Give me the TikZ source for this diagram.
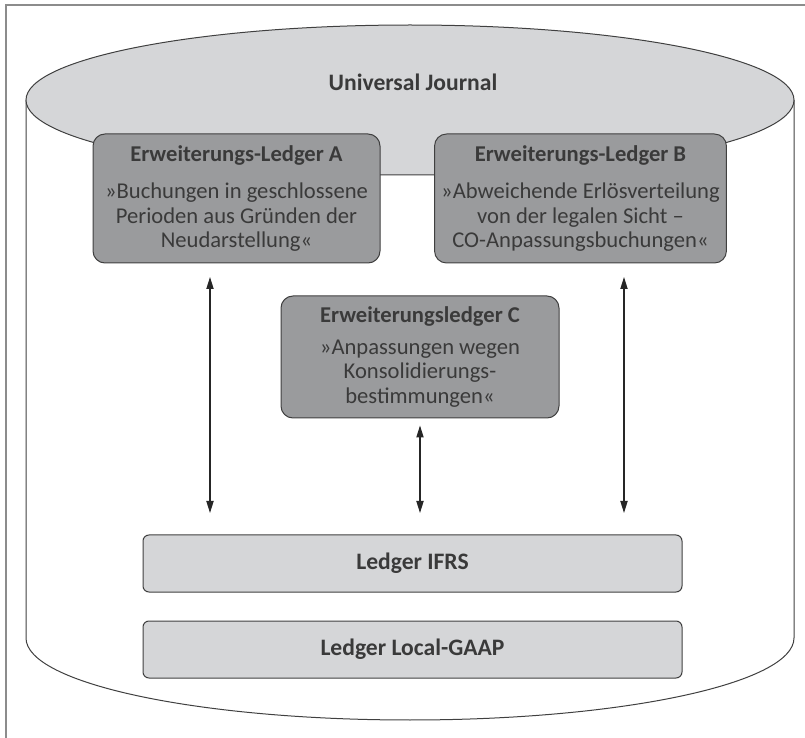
\documentclass[tikz,border=0pt]{standalone}
\usepackage{fontspec}
\setmainfont{Carlito}
\usetikzlibrary{arrows.meta}
\definecolor{lightgr}{HTML}{D5D6D8}
\definecolor{darkgr}{HTML}{9A9B9D}
\definecolor{txt}{HTML}{3A3A3A}

\begin{document}
\begin{tikzpicture}[x=0.5pt,y=-0.5pt,
    ledger/.style={draw=black!75,fill=darkgr,rounded corners=6pt,align=center,text=txt,
      minimum width=143.5pt,minimum height=64.5pt,line width=0.5pt,font=\fontsize{11.3}{12.3}\selectfont},
    base/.style={draw=black!75,fill=lightgr,rounded corners=3pt,minimum width=269.5pt,
      minimum height=28.5pt,line width=0.5pt,text=txt,font=\bfseries\fontsize{11.8}{13}\selectfont},
    link/.style={{Triangle[length=6pt,width=3.6pt]}-{Triangle[length=6pt,width=3.6pt]},line width=0.6pt,black!85}]
  \useasboundingbox (0,0) rectangle (805,738);
  % frame
  \draw[black!45,line width=0.8pt] (6,738) -- (6,5) -- (805,5);
  % database
  \draw[black!75,line width=0.5pt] (26,100) -- (26,638)
    arc[start angle=180,end angle=360,x radius=192pt,y radius=41pt] -- (794,100);
  \draw[black!75,fill=lightgr,line width=0.5pt] (410,100) ellipse [x radius=192pt,y radius=37.5pt];
  \node[text=txt,font=\bfseries\fontsize{11.8}{13}\selectfont] (uj) at (413,82) {Universal Journal};
  % extension ledgers
  \node[ledger] (la) at (236.5,198.5) {\textbf{Erweiterungs-Ledger A}\\[6.5pt]
    »Buchungen in geschlossene\\ Perioden aus Gründen der\\ Neudarstellung«};
  \node[ledger] (lb) at (580.5,198.5) {\textbf{Erweiterungs-Ledger B}\\[6.5pt]
    »Abweichende Erlösverteilung\\ von der legalen Sicht --\\ CO-Anpassungsbuchungen«};
  \node[ledger,minimum width=139pt,minimum height=61pt] (lc) at (420,357) {\textbf{Erweiterungsledger C}\\[3.5pt]
    »Anpassungen wegen\\ Konsolidierungs-\\ bestimmungen«};
  % base ledgers
  \node[base] (ifrs) at (412.5,563.5) {Ledger IFRS};
  \node[base] (gaap) at (412.5,649.5) {Ledger Local-GAAP};
  \coordinate (a1) at (210,277);
  \coordinate (a2) at (210,513);
  \coordinate (b1) at (624,277);
  \coordinate (b2) at (624,513);
  \coordinate (c2) at (420,513);
  \draw[link] (a1) -- (a2);
  \draw[link] (b1) -- (b2);
  \draw[link,shorten <=3.5pt] (lc.south) -- (c2);
\end{tikzpicture}
\end{document}
